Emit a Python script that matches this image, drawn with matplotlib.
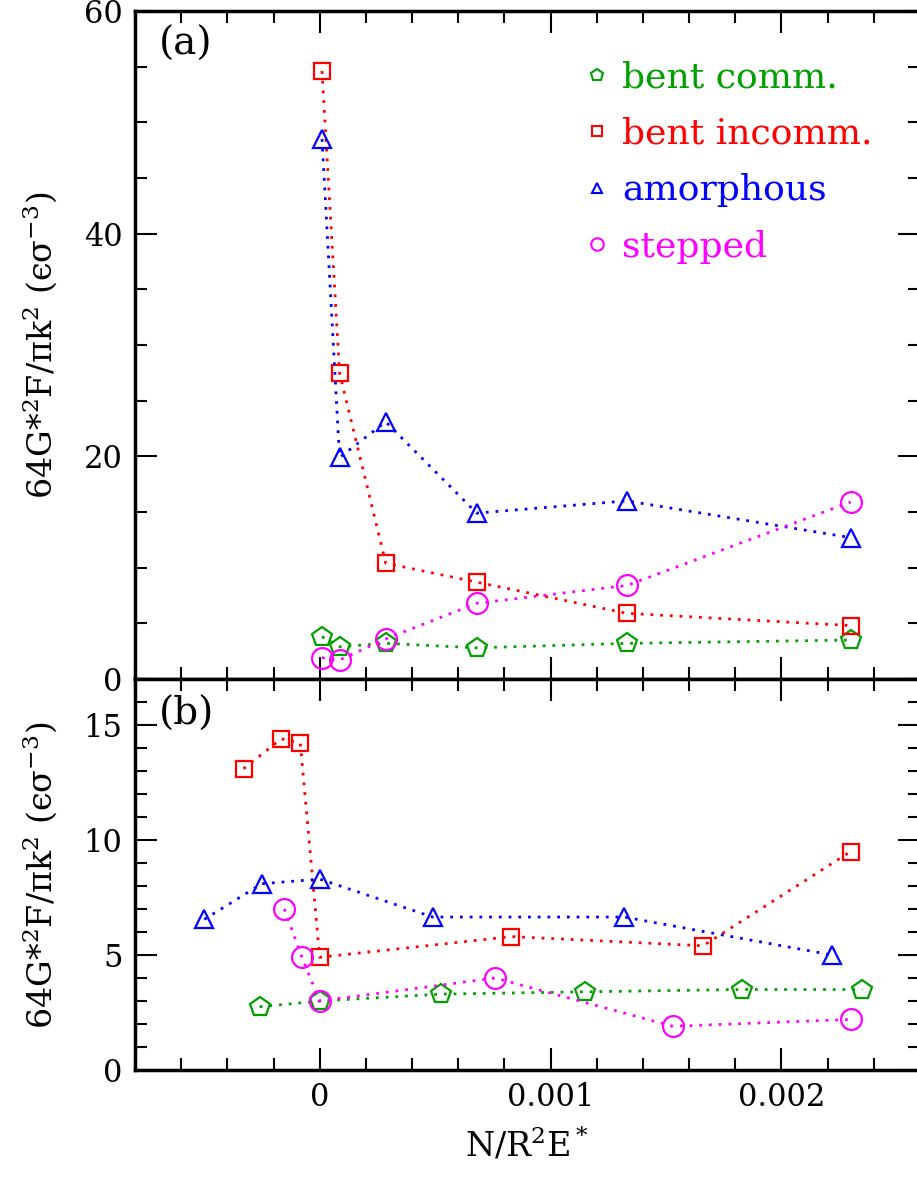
import numpy as np
import matplotlib
matplotlib.use("Agg")
import matplotlib.pyplot as plt
from matplotlib.lines import Line2D
from matplotlib.ticker import MultipleLocator, FixedLocator

plt.rcParams['font.family'] = ['DejaVu Serif']
plt.rcParams['mathtext.fontset'] = 'dejavuserif'

# ------------------------------------------------------------
# dados - painel (a)
# ------------------------------------------------------------
a_comm_x = [0.00001, 0.000086, 0.000286, 0.00068, 0.00133, 0.0023]
a_comm_y = [3.8, 2.9, 3.2, 2.8, 3.2, 3.5]
a_incomm_x = [0.00001, 0.000086, 0.000286, 0.00068, 0.00133, 0.0023]
a_incomm_y = [54.6, 27.5, 10.4, 8.7, 5.9, 4.8]
a_amorph_x = [0.00001, 0.000086, 0.000286, 0.00068, 0.00133, 0.0023]
a_amorph_y = [48.5, 19.9, 23.1, 14.9, 16.0, 12.7]
a_step_x = [0.00001, 0.000086, 0.000286, 0.00068, 0.00133, 0.0023]
a_step_y = [1.9, 1.7, 3.6, 6.8, 8.4, 15.9]

# ------------------------------------------------------------
# dados - painel (b)
# ------------------------------------------------------------
b_comm_x = [-0.00026, 0.0, 0.000525, 0.00115, 0.00183, 0.00235]
b_comm_y = [2.75, 3.0, 3.3, 3.4, 3.5, 3.5]
b_incomm_x = [-0.00033, -0.000166, -0.000084, 0.0, 0.00083, 0.00166, 0.0023]
b_incomm_y = [13.1, 14.4, 14.2, 4.9, 5.8, 5.4, 9.5]
b_amorph_x = [-0.0005, -0.00025, 0.0, 0.00049, 0.00132, 0.00222]
b_amorph_y = [6.55, 8.1, 8.3, 6.65, 6.65, 5.0]
b_step_x = [-0.000153, -0.000077, 0.0, 0.00076, 0.00153, 0.0023]
b_step_y = [7.0, 4.9, 3.0, 4.0, 1.9, 2.2]

labels = ['bent comm.', 'bent incomm.', 'amorphous', 'stepped']
cores = ['#00a000', '#ff0000', '#0000ff', '#ff00ff']
marcadores = ['p', 's', '^', 'o']
tamanhos = [15, 11.5, 13, 15]

xticks = [0, 0.001, 0.002]
xtick_labels = ['0', '0.001', '0.002']

W, H = 917, 1179
fig = plt.figure(figsize=(W / 100, H / 100), dpi=100)
ax_a = fig.add_axes([135 / W, 1 - 679 / H, 785 / W, 668 / H])
ax_b = fig.add_axes([135 / W, 1 - 1070 / H, 785 / W, 391 / H])

series_a = [(a_comm_x, a_comm_y), (a_incomm_x, a_incomm_y),
            (a_amorph_x, a_amorph_y), (a_step_x, a_step_y)]
series_b = [(b_comm_x, b_comm_y), (b_incomm_x, b_incomm_y),
            (b_amorph_x, b_amorph_y), (b_step_x, b_step_y)]

for ax, series in [(ax_a, series_a), (ax_b, series_b)]:
    for (xs, ys), c, m, ms in zip(series, cores, marcadores, tamanhos):
        ax.plot(xs, ys, color=c, ls=(0, (1, 2.5)), lw=2,
                marker=m, ms=ms, mfc='none', mec=c, mew=1.6, clip_on=False)
    ax.set_xlim(-0.0008, 0.0026)
    ax.xaxis.set_major_locator(FixedLocator(xticks))
    ax.xaxis.set_minor_locator(MultipleLocator(0.0002))
    ax.tick_params(which='both', direction='in', top=True, right=True, width=1.5)
    ax.tick_params(which='major', length=16, labelsize=22, pad=9)
    ax.tick_params(which='minor', length=8.5)
    for s in ax.spines.values():
        s.set_linewidth(2.5)

ax_a.set_ylim(0, 60)
ax_a.yaxis.set_major_locator(MultipleLocator(20))
ax_a.yaxis.set_minor_locator(MultipleLocator(5))
ax_a.tick_params(labelbottom=False)

ax_b.set_ylim(0, 17)
ax_b.yaxis.set_major_locator(MultipleLocator(5))
ax_b.yaxis.set_minor_locator(MultipleLocator(1))
ax_b.set_xticks(xticks)
ax_b.set_xticklabels(xtick_labels)

ylabel = '64G*$\\mathregular{^2}$F/πk$\\mathregular{^2}$ (ϵσ$\\mathregular{^{-3}}$)'
fig.text(40 / W, 1 - 345 / H, ylabel, rotation=90, ha='center', va='center', fontsize=24)
fig.text(40 / W, 1 - 875 / H, ylabel, rotation=90, ha='center', va='center', fontsize=24)
fig.text(527 / W, 1 - 1145 / H, 'N/R$\\mathregular{^2}$E$\\mathregular{^*}$', ha='center', va='center', fontsize=24)

ax_a.text(0.03, 0.95, '(a)', transform=ax_a.transAxes, fontsize=28, ha='left', va='center')
ax_b.text(0.03, 0.91, '(b)', transform=ax_b.transAxes, fontsize=28, ha='left', va='center')

# legenda
handles = [Line2D([], [], ls='none', marker=m, color=c, mfc='none', mec=c, ms=ms * 0.6, mew=1.5)
           for c, m, ms in zip(cores, marcadores, tamanhos)]
leg = ax_a.legend(handles, labels, loc='upper left', bbox_to_anchor=(0.57, 0.926),
                  frameon=False, fontsize=26, handlelength=0.8, handletextpad=0.3,
                  labelspacing=0.62, borderpad=0, borderaxespad=0)
for t, c in zip(leg.get_texts(), cores):
    t.set_color(c)

fig.savefig('out.png', dpi=100)
